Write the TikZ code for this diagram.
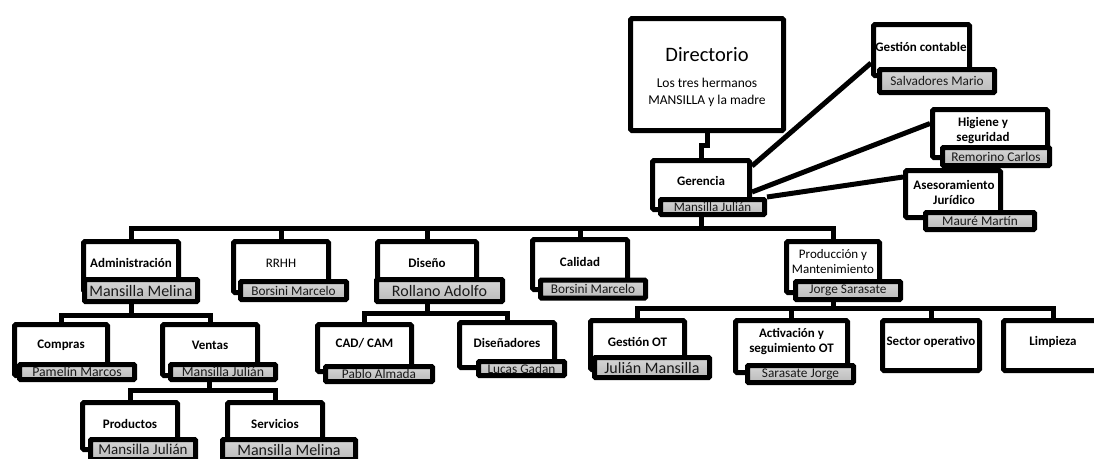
\documentclass[tikz,border=0pt]{standalone}
\usepackage{fontspec}
\setmainfont{Carlito}
\tikzset{
  orgbox/.style={draw=black, line width=5pt, fill=white, rounded corners=1.5pt, inner sep=0pt},
  namebox/.style={draw=black, line width=5pt, top color=black!16, bottom color=black!27, rounded corners=1pt, inner sep=0pt,
    text=black!90, font=\fontsize{13.3}{14}\selectfont},
  ttl/.style={font=\fontsize{13}{15}\selectfont\bfseries, align=center, inner sep=0pt},
  ttlr/.style={font=\fontsize{13}{15}\selectfont, align=center, inner sep=0pt},
  wire/.style={draw=black, line width=5pt},
}
\begin{document}
\begin{tikzpicture}[x=1pt,y=-1pt]
\useasboundingbox (0,0) rectangle (1094,458);
\fill[white] (0,0) rectangle (1094,458);

% ---- top
\node[orgbox, minimum width=153pt, minimum height=112pt] (dir) at (707,74.5) {};
\node[ttlr, font=\fontsize{20.5}{24}\selectfont] (dirT) at (707,55) {Directorio};
\node[ttlr, font=\fontsize{13.5}{17}\selectfont] (dirS) at (707,92) {Los tres hermanos\\MANSILLA y la madre};

\node[orgbox, minimum width=96pt, minimum height=51pt] (ges) at (921.5,50) {};
\node[ttl] (gesT) at (921,47) {Gestión contable};
\node[namebox, minimum width=115pt, minimum height=23pt] (gesN) at (937,81) {Salvadores Mario};

\node[orgbox, minimum width=115pt, minimum height=48pt] (hig) at (990,133.5) {};
\node[ttl] (higT) at (983,131) {Higiene y\\seguridad};
\node[namebox, minimum width=107pt, minimum height=18pt] (higN) at (996,156.5) {Remorino Carlos};

\node[orgbox, minimum width=95pt, minimum height=47pt] (ase) at (953,194) {};
\node[ttl] (aseT) at (954,192) {Asesoramiento\\Jurídico};
\node[namebox, minimum width=109pt, minimum height=17pt] (aseN) at (980,221) {Mauré Martín};

\node[orgbox, minimum width=97pt, minimum height=49pt] (ger) at (701,185) {};
\node[ttl] (gerT) at (701,181) {Gerencia};
\node[namebox, minimum width=104pt, minimum height=15pt, font=\fontsize{13}{14}\selectfont] (gerN) at (712.5,207) {Mansilla Julián};

% ---- level 1
\node[orgbox, minimum width=95pt, minimum height=50pt] (adm) at (131,266.5) {};
\node[ttl] (admT) at (131,263) {Administración};
\node[namebox, minimum width=113pt, minimum height=22pt, font=\fontsize{16}{17}\selectfont] (admN) at (141,290.5) {Mansilla Melina};

\node[orgbox, minimum width=95pt, minimum height=51pt] (rrhh) at (281,267) {};
\node[ttlr] (rrhhT) at (281,263) {RRHH};
\node[namebox, minimum width=106pt, minimum height=18pt] (rrhhN) at (293.5,290.5) {Borsini Marcelo};

\node[orgbox, minimum width=99pt, minimum height=48pt] (dis) at (427,265.5) {};
\node[ttl] (disT) at (427,263) {Diseño};
\node[namebox, minimum width=126pt, minimum height=22pt, font=\fontsize{16}{17}\selectfont] (disN) at (439.5,290.5) {Rollano Adolfo};

\node[orgbox, minimum width=95pt, minimum height=50pt] (cal) at (580,264.5) {};
\node[ttl] (calT) at (580,262) {Calidad};
\node[namebox, minimum width=105pt, minimum height=18pt] (calN) at (593,289) {Borsini Marcelo};

\node[orgbox, minimum width=93pt, minimum height=51pt] (pro) at (833,267) {};
\node[ttlr] (proT) at (833,262) {Producción y\\Mantenimiento};
\node[namebox, minimum width=105pt, minimum height=18pt] (proN) at (848,290.5) {Jorge Sarasate};

% ---- level 2
\node[orgbox, minimum width=93pt, minimum height=51pt] (com) at (61,350) {};
\node[ttl] (comT) at (61,345) {Compras};
\node[namebox, minimum width=115pt, minimum height=15pt, font=\fontsize{13.8}{14}\selectfont] (comN) at (77,372) {Pamelín Marcos};

\node[orgbox, minimum width=95pt, minimum height=51pt] (ven) at (210,350) {};
\node[ttl] (venT) at (210,345) {Ventas};
\node[namebox, minimum width=105pt, minimum height=15pt, font=\fontsize{13.8}{14}\selectfont] (venN) at (223,372) {Mansilla Julián};

\node[orgbox, minimum width=94pt, minimum height=47pt] (cad) at (364.5,348) {};
\node[ttl] (cadT) at (364.5,343) {CAD/ CAM};
\node[namebox, minimum width=107pt, minimum height=15pt] (cadN) at (379,374) {Pablo Almada};

\node[orgbox, minimum width=95pt, minimum height=45pt] (dsn) at (507,345) {};
\node[ttl] (dsnT) at (507,343) {Diseñadores};
\node[namebox, minimum width=86pt, minimum height=14pt] (dsnN) at (521.5,368.5) {Lucas Gadan};

\node[orgbox, minimum width=94pt, minimum height=49pt] (got) at (637.5,345) {};
\node[ttl] (gotT) at (637.5,342) {Gestión OT};
\node[namebox, minimum width=115pt, minimum height=20pt, font=\fontsize{16}{17}\selectfont] (gotN) at (652,367.5) {Julián Mansilla};

\node[orgbox, minimum width=112pt, minimum height=52pt] (act) at (791.5,346.5) {};
\node[ttl] (actT) at (791.5,342) {Activación y\\seguimiento OT};
\node[namebox, minimum width=106pt, minimum height=17pt] (actN) at (800.5,374) {Sarasate Jorge};

\node[orgbox, minimum width=97pt, minimum height=50pt] (sec) at (931,345.5) {};
\node[ttl] (secT) at (931,342) {Sector operativo};

\node[orgbox, minimum width=99pt, minimum height=50pt] (lim) at (1053,345.5) {};
\node[ttl] (limT) at (1053,342) {Limpieza};

% ---- level 3
\node[orgbox, minimum width=95pt, minimum height=47pt] (prd) at (130,426) {};
\node[ttl] (prdT) at (130,424) {Productos};
\node[namebox, minimum width=105pt, minimum height=20pt, font=\fontsize{15}{16}\selectfont] (prdN) at (143,449.5) {Mansilla Julián};

\node[orgbox, minimum width=95pt, minimum height=47pt] (srv) at (275,426) {};
\node[ttl] (srvT) at (275,424) {Servicios};
\node[namebox, minimum width=133pt, minimum height=20pt, font=\fontsize{16}{17}\selectfont] (srvN) at (289,449.5) {Mansilla Melina};

% ---- connectors
\draw[wire] (dir.south) -- ++(0,12) -| (ger.north);
\draw[wire] ([yshift=-8pt]ger.north east) -- ([yshift=-13pt]ges.west);
\draw[wire] ([yshift=-7pt]ger.east) -- ([yshift=10pt]hig.west);
\draw[wire] (gerN.north east) -- ([yshift=17pt]ase.west);

\coordinate (busA) at (701,228);
\draw[wire] (ger.south |- gerN.south) -- (busA);
\draw[wire] (adm.north) -- (adm.north |- busA) -- (pro.north |- busA) -- (pro.north);
\foreach \n in {rrhh,dis,cal} \draw[wire] (\n.north) -- (\n.north |- busA);

\coordinate (busB) at (131,315);
\draw[wire] (adm.south |- admN.south) -- (busB);
\draw[wire] (com.north) -- (com.north |- busB) -- (ven.north |- busB) -- (ven.north);

\coordinate (busC) at (209,390);
\draw[wire] (busC |- venN.south) -- (busC);
\draw[wire] (prd.north) -- (prd.north |- busC) -- (srv.north |- busC) -- (srv.north);

\coordinate (busD) at (427,313);
\draw[wire] (dis.south |- disN.south) -- (busD);
\draw[wire] (cad.north) -- (cad.north |- busD) -- (dsn.north |- busD) -- (dsn.north);

\coordinate (busE) at (833,308);
\draw[wire] (pro.south |- proN.south) -- (busE);
\draw[wire] (got.north) -- (got.north |- busE) -- (lim.north |- busE) -- (lim.north);
\foreach \n in {act,sec} \draw[wire] (\n.north) -- (\n.north |- busE);
\end{tikzpicture}
\end{document}
